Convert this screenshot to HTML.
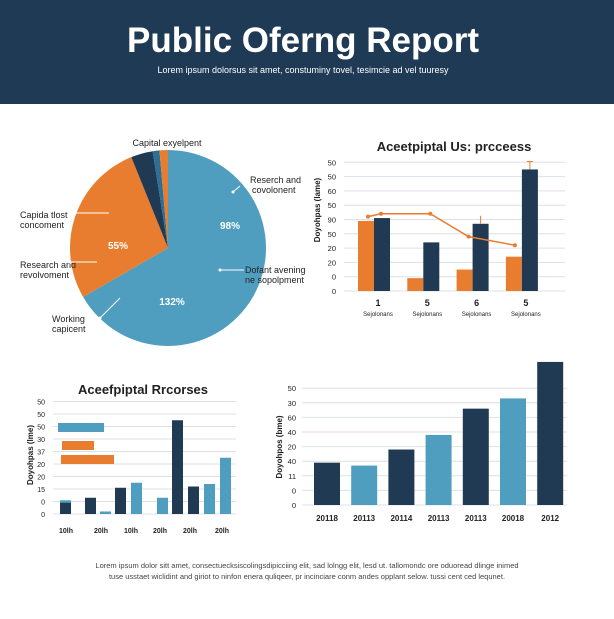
<!DOCTYPE html>
<html><head><meta charset="utf-8"><style>
body{margin:0;width:614px;height:614px;background:#fff;font-family:"Liberation Sans",sans-serif;overflow:hidden}
svg text{font-family:"Liberation Sans",sans-serif}
</style></head><body>
<svg id="s" width="614" height="614" viewBox="0 0 614 614">
<rect x="0" y="0" width="614" height="104" fill="#1f3a55"/>
<text x="303" y="52" text-anchor="middle" font-size="35" font-weight="bold" fill="#fff">Public Oferng Report</text>
<text x="303" y="73" text-anchor="middle" font-size="9" fill="#fff">Lorem ipsum dolorsus sit amet, constuminy tovel, tesimcie ad vel tuuresy</text>
<g id="pie"></g>
<g id="c2"></g>
<g id="c3"></g>
<g id="c4"></g>
<text x="307" y="568" text-anchor="middle" font-size="7.5" fill="#444">Lorem ipsum dolor sitt amet, consectuecksiscolingsdipicciing elit, sad lolngg elit, lesd ut. tallomondc ore oduoread dlinge inimed</text>
<text x="307" y="579" text-anchor="middle" font-size="7.5" fill="#444">tuse usstaet wiclidint and giriot to ninfon enera quliqeer, pr incinciare conm andes opplant selow. tussi cent ced lequnet.</text>
</svg>
<script>
const NS="http://www.w3.org/2000/svg";
function mk(p,t,a,txt){const e=document.createElementNS(NS,t);for(const k in a)e.setAttribute(k,a[k]);if(txt!=null)e.textContent=txt;p.appendChild(e);return e;}
const NAVY="#213a54",LB="#4f9ec0",OR="#e87d2f",GR="#dde1e5";

// ---- Pie ----
const pieLabels=["working-capital","research","capital-a","capital-b","capital-c"];
const pieValues=[240,98,13,4,5];
const pieColors=[LB,OR,NAVY,"#2e6f96",OR];
const pie=document.getElementById('pie');
(function(){const cx=168,cy=248,r=98;const tot=pieValues.reduce((a,b)=>a+b,0);let a0=0;
pieValues.forEach((v,i)=>{const a1=a0+v/tot*2*Math.PI;
const x0=cx+r*Math.sin(a0),y0=cy-r*Math.cos(a0),x1=cx+r*Math.sin(a1),y1=cy-r*Math.cos(a1);
const p=mk(pie,'path',{d:`M${cx},${cy}L${x0},${y0}A${r},${r} 0 ${a1-a0>Math.PI?1:0} 1 ${x1},${y1}Z`,fill:pieColors[i]});


a0=a1;});})();
const pieTexts=[[167,146,"Capital exyelpent","middle","#222"],[250,183,"Reserch and","start","#222"],[252,193,"covolonent","start","#222"],
[20,218,"Capida tlost","start","#222"],[20,228,"concoment","start","#222"],[20,268,"Research and","start","#222"],[20,278,"revolvoment","start","#222"],
[52,322,"Working","start","#222"],[52,332,"capicent","start","#222"],[245,273,"Dofant avening","start","#222"],[245,283,"ne sopolpment","start","#222"]];
pieTexts.forEach(t=>{const e=mk(pie,'text',{x:t[0],y:t[1],"text-anchor":t[3],"font-size":9,fill:t[4]},t[2]);

});
[[230,229,"98%"],[118,249,"55%"],[172,305,"132%"]].forEach(t=>{const e=mk(pie,'text',{x:t[0],y:t[1],"text-anchor":"middle","font-size":10,"font-weight":"bold",fill:"#fff"},t[2]);

});
[[233,192,240,186],[75,213,109,213],[70,262,97,262],[100,318,120,298],[220,270,244,270]].forEach(l=>{mk(pie,'line',{x1:l[0],y1:l[1],x2:l[2],y2:l[3],stroke:"#fff","stroke-width":1});mk(pie,'circle',{cx:l[0],cy:l[1],r:1.5,fill:"#fff"});});

// ---- Chart 2 ----
const c2Cats=["1","5","6","5"];
const c2Orange=[49,9,15,24];
const c2Navy=[51,34,47,85];
const c2Line=[52,54,54,38,32];
const c2Ticks=["0","0","20","20","50","90","50","60","50","50"];
(function(){const g=document.getElementById('c2');const x0=344,x1=565,yb=291,step=14.3;
const y=v=>yb-v/10*step;
const t=mk(g,'text',{x:454,y:151,"text-anchor":"middle","font-size":13,"font-weight":"bold",fill:"#222"},"Aceetpiptal Us: prcceess");

c2Ticks.forEach((s,i)=>{mk(g,'line',{x1:x0,x2:x1,y1:yb-i*step,y2:yb-i*step,stroke:GR});
const e=mk(g,'text',{x:336,y:yb-i*step+3,"text-anchor":"end","font-size":7.5,fill:"#222"},s);});
const yt=mk(g,'text',{transform:"translate(320,210) rotate(-90)","text-anchor":"middle","font-size":8,"font-weight":"bold",fill:"#222"},"Doyohpas (lame)");

const cx=i=>374+i*49.3;
c2Cats.forEach((c,i)=>{
const b1=mk(g,'rect',{x:cx(i)-16,y:y(c2Orange[i]),width:16,height:yb-y(c2Orange[i]),fill:OR});
const b2=mk(g,'rect',{x:cx(i),y:y(c2Navy[i]),width:16,height:yb-y(c2Navy[i]),fill:NAVY});
const l=mk(g,'text',{x:cx(i)+4,y:306,"text-anchor":"middle","font-size":9,"font-weight":"bold",fill:"#222"},c);
const l2=mk(g,'text',{x:cx(i)+4,y:316,"text-anchor":"middle","font-size":6,fill:"#222"},"Sejolonans");});
const lx=[cx(0)-6,cx(0)+7,cx(1)+7,cx(2)-4,cx(3)-7];
const pts=c2Line.map((v,i)=>lx[i]+','+y(v)).join(' ');
const pl=mk(g,'polyline',{points:pts,fill:"none",stroke:OR,"stroke-width":1.5});
c2Line.forEach((v,i)=>mk(g,'circle',{cx:lx[i],cy:y(v),r:2,fill:OR}));
mk(g,'line',{x1:cx(3)+8,x2:cx(3)+8,y1:y(c2Navy[3]),y2:y(c2Navy[3])-8,stroke:OR});mk(g,'line',{x1:cx(3)+5,x2:cx(3)+11,y1:y(c2Navy[3])-8,y2:y(c2Navy[3])-8,stroke:OR});
mk(g,'line',{x1:cx(2)+8,x2:cx(2)+8,y1:y(c2Navy[2]),y2:y(c2Navy[2])-8,stroke:OR});
})();

// ---- Chart 3 ----
const c3Ticks=["0","0","15","20","20","37","30","50","50","50"];
const c3HBars=[[58,104,423,LB],[62,94,441,OR],[61,114,455,OR]];
const c3Labels=["10lh","20lh","10lh","20lh","20lh","20lh"];
const c3Vals=[9,13,2,21,25,13,75,22,24,45];
const c3Colors=["n","n","l","n","l","l","n","n","l","l"];
(function(){const g=document.getElementById('c3');const x0=53,x1=236,yb=514,step=12.5;const y=v=>yb-v/10*step;
const t=mk(g,'text',{x:143,y:394,"text-anchor":"middle","font-size":13,"font-weight":"bold",fill:"#222"},"Aceefpiptal Rrcorses");
c3Ticks.forEach((s,i)=>{mk(g,'line',{x1:x0,x2:x1,y1:yb-i*step,y2:yb-i*step,stroke:GR});
const e=mk(g,'text',{x:45,y:yb-i*step+3,"text-anchor":"end","font-size":7,fill:"#222"},s);});
const yt=mk(g,'text',{transform:"translate(33,455) rotate(-90)","text-anchor":"middle","font-size":8,"font-weight":"bold",fill:"#222"},"Doyohpas (lme)");
c3HBars.forEach((h,i)=>{const r=mk(g,'rect',{x:h[0],y:h[2],width:h[1]-h[0],height:9,fill:h[3]});});
mk(g,'rect',{x:60,y:y(11),width:11,height:yb-y(11),fill:LB});
const bx=[60,85,100,115,131,157,172,188,204,220];
c3Vals.forEach((v,i)=>{const r=mk(g,'rect',{x:bx[i],y:y(v),width:11,height:yb-y(v),fill:c3Colors[i]=="n"?NAVY:LB});});
const lx=[66,101,131,160,190,222];
c3Labels.forEach((s,i)=>{const e=mk(g,'text',{x:lx[i],y:533,"text-anchor":"middle","font-size":7,"font-weight":"bold",fill:"#222"},s);});
})();

// ---- Chart 4 ----
const c4Ticks=["0","0","11","40","20","40","60","30","50"];
const c4Cats=["20118","20113","20114","20113","20113","20018","2012"];
const c4Vals=[29,27,38,48,66,73,98];
(function(){const g=document.getElementById('c4');const x0=302,x1=567,yb=505,step=14.6;const y=v=>yb-v/10*step;
c4Ticks.forEach((s,i)=>{mk(g,'line',{x1:x0,x2:x1,y1:yb-i*step,y2:yb-i*step,stroke:GR});
const e=mk(g,'text',{x:296,y:yb-i*step+3,"text-anchor":"end","font-size":7.5,fill:"#222"},s);});
const yt=mk(g,'text',{transform:"translate(282,447) rotate(-90)","text-anchor":"middle","font-size":8,"font-weight":"bold",fill:"#222"},"Doyohpos (bme)");
c4Vals.forEach((v,i)=>{const x=314+i*37.2;
const r=mk(g,'rect',{x:x,y:y(v),width:26,height:yb-y(v),fill:i%2?LB:NAVY});
const e=mk(g,'text',{x:x+13,y:521,"text-anchor":"middle","font-size":8,"font-weight":"bold",fill:"#222"},c4Cats[i]);});
})();
</script>
</body></html>
